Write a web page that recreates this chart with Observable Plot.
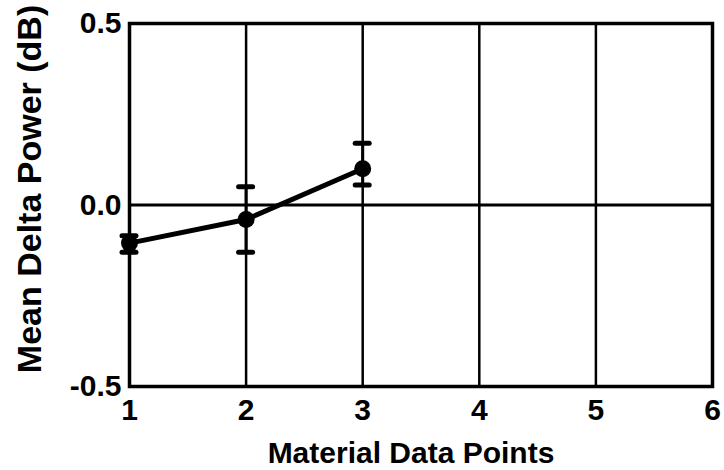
<!DOCTYPE html>
<html>
<head>
<meta charset="utf-8">
<script src="https://cdn.jsdelivr.net/npm/d3@7"></script>
<script src="https://cdn.jsdelivr.net/npm/@observablehq/plot@0.6"></script>
<style>
  html, body { margin: 0; padding: 0; background: #fff; }
  #chart { width: 724px; height: 470px; }
</style>
</head>
<body>
<div id="chart"></div>
<script>
const points = [1, 2, 3];
const means = [-0.105, -0.04, 0.10];
const upper = [-0.085, 0.05, 0.17];
const lower = [-0.13, -0.13, 0.055];
const xTicks = [1, 2, 3, 4, 5, 6];
const yTicks = [-0.5, 0.0, 0.5];
const gridX = [2, 3, 4, 5];
const xLabel = "Material Data Points";
const yLabel = "Mean Delta Power (dB)";

const data = points.map((x, i) => ({x, y: means[i], hi: upper[i], lo: lower[i]}));
const capHalf = 0.06;

const font = "'Liberation Sans', Arial, Helvetica, sans-serif";

const chart = Plot.plot({
  width: 724,
  height: 470,
  marginLeft: 129,
  marginRight: 12,
  marginTop: 23,
  marginBottom: 84,
  style: {fontFamily: font, fontWeight: "bold", color: "#000", background: "#fff"},
  x: {domain: [1, 6]},
  y: {domain: [-0.5, 0.5]},
  marks: [
    Plot.ruleX(gridX, {stroke: "#000", strokeWidth: 2.5}),
    Plot.ruleY([0], {stroke: "#000", strokeWidth: 3}),
    Plot.ruleX(data, {x: "x", y1: "lo", y2: "hi", stroke: "#000", strokeWidth: 3}),
    Plot.ruleY(data, {y: "hi", x1: d => d.x - capHalf, x2: d => d.x + capHalf, stroke: "#000", strokeWidth: 5, strokeLinecap: "round"}),
    Plot.ruleY(data, {y: "lo", x1: d => d.x - capHalf, x2: d => d.x + capHalf, stroke: "#000", strokeWidth: 5, strokeLinecap: "round"}),
    Plot.line(data, {x: "x", y: "y", stroke: "#000", strokeWidth: 5}),
    Plot.dot(data, {x: "x", y: "y", r: 8.5, fill: "#000", stroke: "none"}),
    Plot.frame({stroke: "#000", strokeWidth: 3.5}),
    Plot.axisY({ticks: yTicks, tickFormat: d => d.toFixed(1), tickSize: 0, tickPadding: 8, label: null, fontSize: 30}),
    Plot.axisX({ticks: xTicks, tickFormat: d => String(d), tickSize: 0, tickPadding: 12, label: null, fontSize: 30}),
    Plot.text([xLabel], {frameAnchor: "bottom", dy: 76, dx: -10, fontSize: 30, fontWeight: "bold", fill: "#000"}),
    Plot.text([yLabel], {frameAnchor: "left", rotate: -90, textAnchor: "middle", dx: -99, dy: -16, fontSize: 34, fontWeight: "bold", fill: "#000"})
  ]
});
document.getElementById("chart").appendChild(chart);
</script>
</body>
</html>
